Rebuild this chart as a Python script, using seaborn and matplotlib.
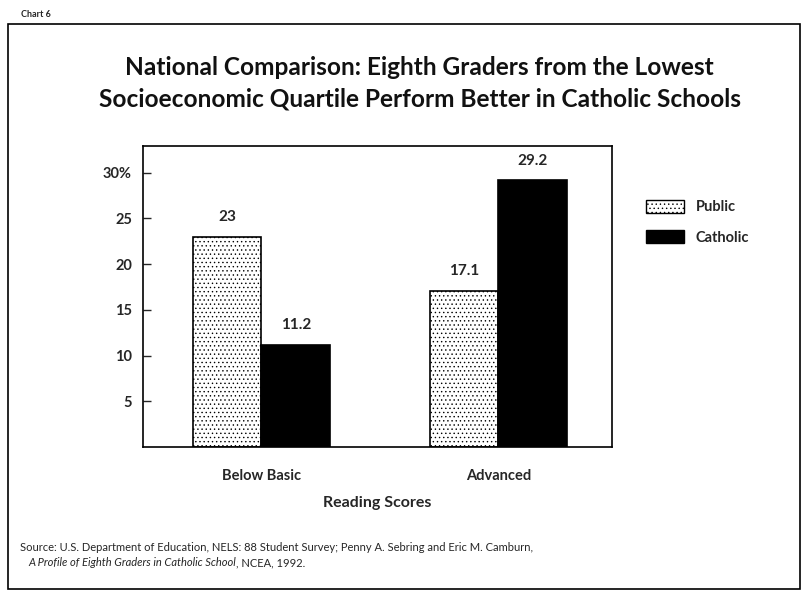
import matplotlib.pyplot as plt
import seaborn as sns
import pandas as pd
from matplotlib.patches import Patch, Rectangle

categories = ['Below Basic', 'Advanced']
schools = ['Public', 'Catholic']
public_values = [23, 17.1]
catholic_values = [11.2, 29.2]
y_ticks = [5, 10, 15, 20, 25, 30]
y_tick_labels = ['5', '10', '15', '20', '25', '30%']

df = pd.DataFrame({
    'score': categories * 2,
    'school': [schools[0]] * 2 + [schools[1]] * 2,
    'value': public_values + catholic_values,
})

sns.set_style('white')
plt.rcParams['font.family'] = ['Lato', 'DejaVu Sans']
plt.rcParams['hatch.linewidth'] = 0.5

fig = plt.figure(figsize=(8.04, 5.92), dpi=100)
ax = fig.add_axes([0.178, 0.245, 0.583, 0.508])

sns.barplot(data=df, x='score', y='value', hue='school', order=categories,
            hue_order=schools, palette=['white', 'black'], width=0.58,
            edgecolor='black', linewidth=1.2, legend=False, ax=ax)

# speckled fill for the public bars
for bar in ax.containers[0]:
    bar.set_hatch('....')

for container, vals in zip(ax.containers, [public_values, catholic_values]):
    ax.bar_label(container, labels=[f'{v:g}' for v in vals], padding=9,
                 fontsize=11, fontweight='bold')

ax.set_xlim(-0.5, 1.48)
ax.set_ylim(0, 32.9)
ax.set_yticks(y_ticks)
ax.set_yticklabels(y_tick_labels, fontsize=10.5, fontweight='bold')
ax.tick_params(axis='y', direction='in', length=6, width=1, left=True, pad=8)
ax.tick_params(axis='x', length=0, labelsize=10.5, pad=16)
for lbl in ax.get_xticklabels():
    lbl.set_fontweight('bold')
ax.set_xlabel('Reading Scores', fontsize=11.5, fontweight='bold', labelpad=9)
ax.set_ylabel('')
for spine in ax.spines.values():
    spine.set_linewidth(1.2)
    spine.set_color('black')

handles = [Patch(facecolor='white', edgecolor='black', hatch='....', label='Public'),
           Patch(facecolor='black', edgecolor='black', label='Catholic')]
fig.legend(handles=handles, loc='upper left', bbox_to_anchor=(0.787, 0.685),
           frameon=False, handlelength=2.6, handleheight=1.0,
           labelspacing=1.1, prop={'weight': 'bold', 'size': 10.5})

fig.text(0.522, 0.859, 'National Comparison: Eighth Graders from the Lowest\n'
         'Socioeconomic Quartile Perform Better in Catholic Schools',
         ha='center', va='center', fontsize=17.6, fontweight='bold',
         linespacing=1.45, color='#111111')

fig.text(0.025, 0.076, 'Source: U.S. Department of Education, NELS: 88 Student Survey; '
         'Penny A. Sebring and Eric M. Camburn,', fontsize=8, va='center')
italic_part = fig.text(0.035, 0.049, 'A Profile of Eighth Graders in Catholic School',
                       fontsize=8, style='italic', va='center')
renderer = fig.canvas.get_renderer()
bb = italic_part.get_window_extent(renderer).transformed(fig.transFigure.inverted())
fig.text(bb.x1, 0.049, ', NCEA, 1992.', fontsize=8, va='center')

fig.text(0.026, 0.976, 'Chart 6', fontsize=6.5, fontweight='bold', va='center')
fig.add_artist(Rectangle((0.01, 0.005), 0.985, 0.955, transform=fig.transFigure,
                         fill=False, edgecolor='black', linewidth=1.2))

fig.savefig('out.png', dpi=100)
plt.close(fig)
